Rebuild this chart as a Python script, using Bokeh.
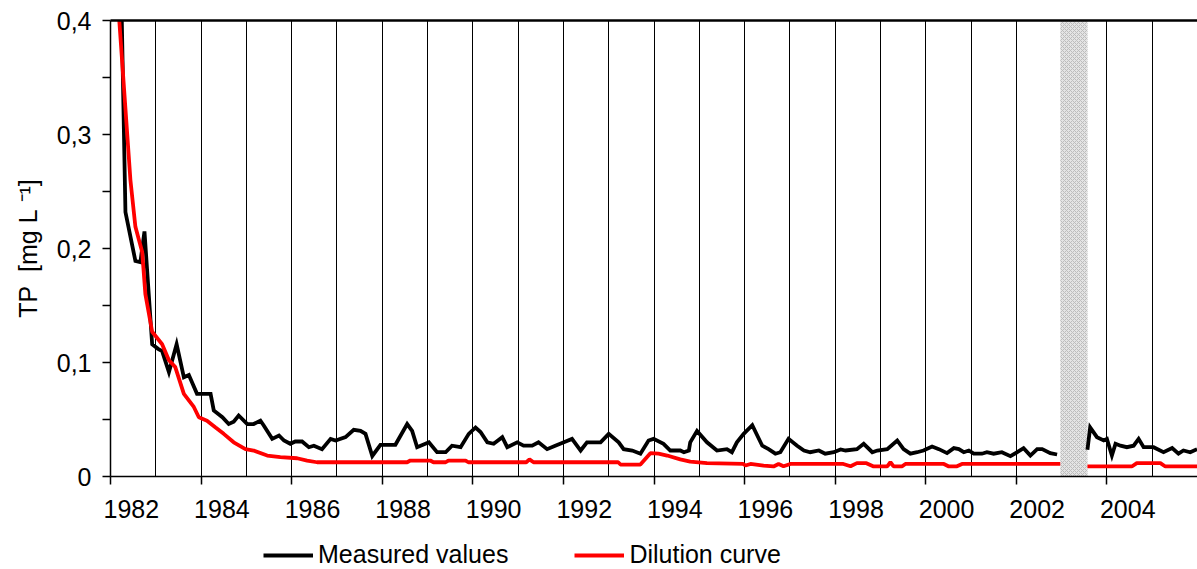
from bokeh.plotting import figure
from bokeh.layouts import column
from bokeh.models import Range1d, FixedTicker, LinearAxis, Legend, LegendItem
from bokeh.embed import file_html
from bokeh.resources import INLINE

nan = float("nan")

# Total phosphorus, measured in the lake (mg/L), decimal years
years_measured = [
    1982.24, 1982.33, 1982.55, 1982.66, 1982.75, 1982.92, 1983.05, 1983.14, 1983.29, 1983.46,
    1983.62, 1983.73, 1983.91, 1984.21, 1984.28, 1984.47, 1984.61, 1984.72, 1984.83, 1985.02,
    1985.16, 1985.31, 1985.38, 1985.57, 1985.72, 1985.83, 1985.97, 1986.08, 1986.23, 1986.38,
    1986.49, 1986.67, 1986.86, 1986.97, 1987.19, 1987.37, 1987.52, 1987.63, 1987.78, 1987.96,
    1988.29, 1988.55, 1988.66, 1988.77, 1989.03, 1989.21, 1989.40, 1989.54, 1989.73, 1989.91,
    1990.06, 1990.17, 1990.32, 1990.46, 1990.65, 1990.76, 1990.98, 1991.12, 1991.31, 1991.45,
    1991.64, 1991.82, 1992.01, 1992.19, 1992.38, 1992.52, 1992.82, 1993.00, 1993.22, 1993.33,
    1993.52, 1993.70, 1993.88, 1993.99, 1994.21, 1994.36, 1994.58, 1994.66, 1994.77, 1994.80,
    1994.95, 1995.17, 1995.39, 1995.61, 1995.72, 1995.83, 1995.98, 1996.17, 1996.39, 1996.53,
    1996.68, 1996.79, 1996.97, 1997.16, 1997.31, 1997.45, 1997.64, 1997.78, 1997.97, 1998.12,
    1998.23, 1998.48, 1998.63, 1998.82, 1998.93, 1999.15, 1999.37, 1999.51, 1999.66, 1999.81,
    1999.95, 2000.14, 2000.29, 2000.47, 2000.62, 2000.73, 2000.84, 2000.95, 2001.06, 2001.24,
    2001.35, 2001.50, 2001.68, 2001.87, 2002.02, 2002.16, 2002.31, 2002.46, 2002.57, 2002.75,
    2002.90, 2003.20, 2003.57, 2003.63, 2003.78, 2003.93, 2004.00, 2004.11, 2004.19, 2004.30,
    2004.44, 2004.59, 2004.70, 2004.81, 2005.03, 2005.25, 2005.44, 2005.58, 2005.69, 2005.84,
    2005.99,
]
tp_measured = [
    0.420, 0.232, 0.189, 0.188, 0.215, 0.116, 0.112, 0.110, 0.0915, 0.116,
    0.087, 0.089, 0.0725, 0.0725, 0.058, 0.052, 0.046, 0.048, 0.0535, 0.046,
    0.046, 0.049, 0.045, 0.033, 0.036, 0.0316, 0.0287, 0.0307, 0.0307, 0.0257,
    0.027, 0.024, 0.033, 0.0316, 0.0345, 0.041, 0.040, 0.0374, 0.018, 0.0278,
    0.0278, 0.046, 0.040, 0.0257, 0.030, 0.0213, 0.0213, 0.027, 0.0257, 0.0374,
    0.043, 0.039, 0.030, 0.0287, 0.0345, 0.0257, 0.030, 0.027, 0.027, 0.030,
    0.024, 0.027, 0.030, 0.033, 0.0228, 0.030, 0.030, 0.0374, 0.030, 0.024,
    0.0228, 0.020, 0.0316, 0.033, 0.0287, 0.0228, 0.0228, 0.0213, 0.0228, 0.030,
    0.040, 0.030, 0.0228, 0.024, 0.0213, 0.030, 0.0374, 0.045, 0.027, 0.024,
    0.020, 0.0213, 0.033, 0.027, 0.0228, 0.0213, 0.0228, 0.020, 0.0213, 0.0237,
    0.0228, 0.024, 0.0287, 0.0213, 0.0228, 0.024, 0.0316, 0.024, 0.020, 0.0213,
    0.0228, 0.0263, 0.024, 0.0205, 0.0249, 0.024, 0.0213, 0.0228, 0.020, 0.020,
    0.0213, 0.020, 0.0213, 0.0178, 0.0213, 0.0249, 0.0184, 0.024, 0.024, 0.0205,
    0.0193, nan, 0.0234, 0.043, 0.0345, 0.0316, 0.033, 0.0184, 0.0287, 0.027,
    0.0257, 0.027, 0.033, 0.0257, 0.0257, 0.0213, 0.025, 0.020, 0.0228, 0.0213,
    0.024,
]

# Theoretical dilution curve (mg/L)
years_dilution = [
    1982.15, 1982.44, 1982.55, 1982.70, 1982.77, 1982.92, 1983.14, 1983.29, 1983.43, 1983.62,
    1983.84, 1983.95, 1984.13, 1984.32, 1984.50, 1984.72, 1984.98, 1985.16, 1985.46, 1985.75,
    1986.12, 1986.34, 1986.56, 1988.55, 1988.62, 1989.06, 1989.13, 1989.40, 1989.46, 1989.84,
    1989.90, 1991.18, 1991.25, 1991.34, 1993.21, 1993.26, 1993.70, 1993.92, 1994.10, 1994.29,
    1994.58, 1994.80, 1995.17, 1995.97, 1996.02, 1996.13, 1996.42, 1996.64, 1996.75, 1996.86,
    1997.01, 1998.18, 1998.34, 1998.48, 1998.69, 1998.85, 1999.15, 1999.22, 1999.29, 1999.48,
    1999.55, 2000.40, 2000.51, 2000.69, 2000.80, 2002.97, 2003.20, 2003.57, 2004.55, 2004.66,
    2005.18, 2005.29, 2006.00,
]
tp_dilution = [
    0.425, 0.260, 0.219, 0.197, 0.160, 0.127, 0.116, 0.102, 0.096, 0.0725,
    0.061, 0.052, 0.049, 0.043, 0.0374, 0.030, 0.024, 0.0228, 0.0184, 0.017,
    0.016, 0.014, 0.0125, 0.0125, 0.014, 0.014, 0.0125, 0.0125, 0.014, 0.014,
    0.0125, 0.0125, 0.015, 0.0125, 0.0125, 0.0105, 0.0105, 0.0205, 0.020, 0.0184,
    0.015, 0.013, 0.0117, 0.011, 0.0096, 0.011, 0.0096, 0.0088, 0.011, 0.009,
    0.011, 0.011, 0.009, 0.0117, 0.0117, 0.0088, 0.0088, 0.0125, 0.0088, 0.009,
    0.011, 0.011, 0.0088, 0.009, 0.011, 0.011, nan, 0.0088, 0.0088, 0.0117,
    0.0117, 0.0088, 0.0088,
]

# Period without sampling
gap_start, gap_end = 2002.97, 2003.57

label_years = list(range(1982, 2005, 2))
y_ticks = [0, 0.1, 0.2, 0.3, 0.4]
y_tick_labels = ["0", "0,1", "0,2", "0,3", "0,4"]

FONT = "Liberation Sans"
FS = "25px"
MEAS_STYLE = dict(line_color="black", line_width=3.8)
DIL_STYLE = dict(line_color="#ff0000", line_width=3.8)

p = figure(
    width=1197, height=536,
    x_range=Range1d(1982, 2006), y_range=Range1d(0, 0.4),
    output_backend="svg", toolbar_location=None,
    min_border_left=110, min_border_right=0, min_border_top=20, min_border_bottom=60,
    background_fill_color="white", border_fill_color="white",
)
p.outline_line_color = None

# x axis: tick marks on even years, year label centred inside its year
label_offset = 0.46
p.xaxis.ticker = FixedTicker(ticks=[y + label_offset for y in label_years], minor_ticks=label_years)
p.xaxis.major_label_overrides = {y + label_offset: str(y) for y in label_years}
p.xaxis.major_tick_line_color = None
p.xaxis.minor_tick_line_color = "black"
p.xaxis.minor_tick_line_width = 1.5
p.xaxis.minor_tick_out = 8
p.xaxis.minor_tick_in = 0
p.xaxis.major_label_standoff = 15
p.xaxis.axis_line_width = 1.5
p.xaxis.axis_line_color = "black"
p.xaxis.major_label_text_font = FONT
p.xaxis.major_label_text_font_size = FS
p.xaxis.major_label_text_color = "black"

# y axis
p.yaxis.ticker = FixedTicker(ticks=y_ticks, minor_ticks=[0.05, 0.15, 0.25, 0.35])
p.yaxis.major_label_overrides = dict(zip(y_ticks, y_tick_labels))
p.yaxis.major_tick_out = 8
p.yaxis.major_tick_in = 0
p.yaxis.minor_tick_out = 8
p.yaxis.minor_tick_in = 0
p.yaxis.major_tick_line_width = 1.5
p.yaxis.minor_tick_line_width = 1.5
p.yaxis.major_tick_line_color = "black"
p.yaxis.minor_tick_line_color = "black"
p.yaxis.axis_line_width = 1.5
p.yaxis.axis_line_color = "black"
p.yaxis.major_label_standoff = 11
p.yaxis.major_label_text_font = FONT
p.yaxis.major_label_text_font_size = FS
p.yaxis.major_label_text_color = "black"
p.yaxis.axis_label = "TP\u00a0\u00a0[mg L\u00a0\u207b\u00b9]"
p.yaxis.axis_label_text_font = FONT
p.yaxis.axis_label_text_font_size = FS
p.yaxis.axis_label_text_font_style = "normal"
p.yaxis.axis_label_text_color = "black"
p.yaxis.axis_label_standoff = 12

# top border line
top = LinearAxis(ticker=FixedTicker(ticks=[]), axis_line_width=2.5, axis_line_color="black",
                 major_tick_line_color=None, minor_tick_line_color=None,
                 major_label_text_font_size="0px")
p.add_layout(top, "above")

# vertical year grid
p.xgrid.ticker = FixedTicker(ticks=list(range(1983, 2006)))
p.xgrid.grid_line_color = "black"
p.xgrid.grid_line_width = 1
p.ygrid.grid_line_color = None

# no-data period
p.quad(left=[gap_start], right=[gap_end], bottom=[0], top=[0.4],
       fill_color="#e4e4e4", line_color=None,
       hatch_pattern="diagonal_cross", hatch_color="#bcbcbc", hatch_scale=4, hatch_weight=1)

p.line(years_measured, tp_measured, line_join="miter", **MEAS_STYLE)
p.line(years_dilution, tp_dilution, **DIL_STYLE)

# legend strip underneath the chart (its key lines lie outside the visible range)
leg = figure(
    width=1197, height=33, x_range=Range1d(0, 1), y_range=Range1d(0, 1),
    output_backend="svg", toolbar_location=None,
    min_border=0, min_border_left=0, min_border_right=0, min_border_top=0, min_border_bottom=0,
    background_fill_color="white", border_fill_color="white",
)
leg.outline_line_color = None
leg.axis.visible = False
leg.grid.visible = False
k_meas = leg.line([-2, -1], [-2, -1], **MEAS_STYLE)
k_dil = leg.line([-2, -1], [-2, -1], **DIL_STYLE)
legend = Legend(
    items=[LegendItem(label="Measured values", renderers=[k_meas]),
           LegendItem(label="Dilution curve", renderers=[k_dil])],
    orientation="horizontal", location=(153, 0),
    glyph_width=50, glyph_height=16, label_height=16, label_standoff=5, spacing=66,
    padding=0, margin=0, border_line_color=None, background_fill_alpha=0,
    label_text_font=FONT, label_text_font_size=FS, label_text_color="black",
    label_text_line_height=0.66,
)
leg.add_layout(legend, "center")

layout = column(p, leg, spacing=0)
open("out.html", "w").write(file_html(layout, INLINE))
